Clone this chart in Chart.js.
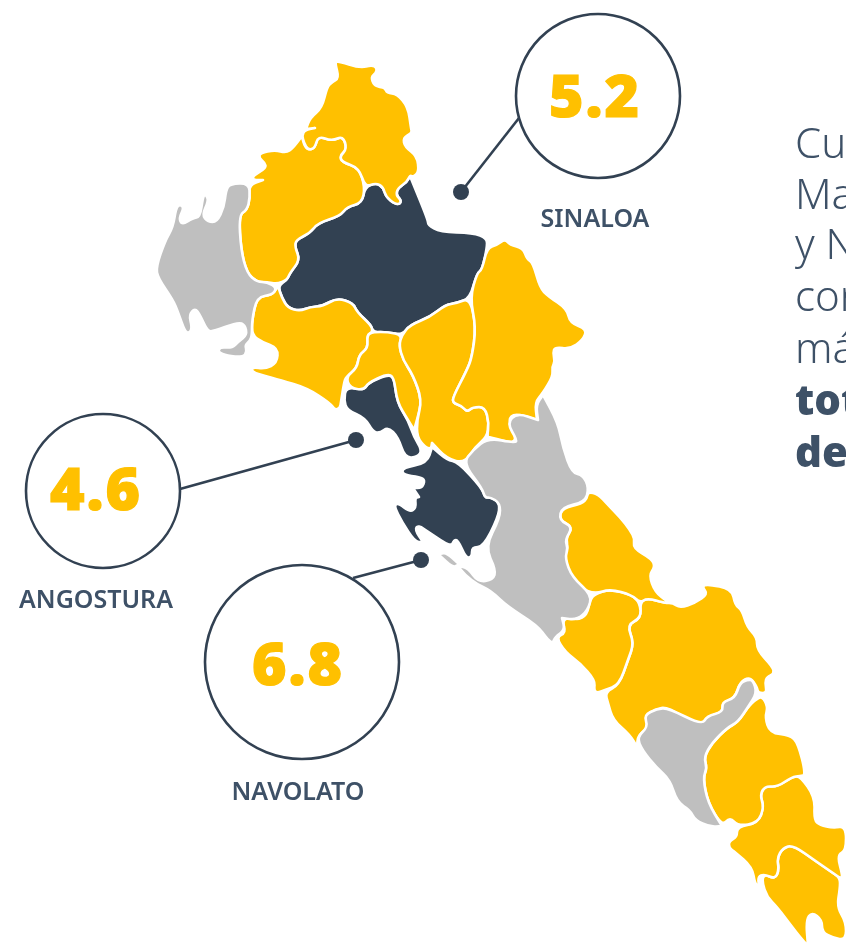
<!DOCTYPE html>
<html>
<head>
<meta charset="utf-8">
<title>Sinaloa</title>
<script src="https://cdn.jsdelivr.net/npm/chart.js@4"></script>
<style>
  html, body { margin: 0; padding: 0; background: #fff; overflow: hidden; }
  canvas { display: block; }
</style>
</head>
<body>
<canvas id="mapaChart" width="846" height="946"></canvas>
<script>
// contornos, en coordenadas del eje x/y
const choix = [[335,63],[338,61],[360,68],[372,65],[377,68],[376,73],[371,77],[374,85],[380,87],[385,88],[387,93],[397,94],[408,107],[411,128],[412,133],[403,138],[405,147],[417,156],[419,172],[413,177],[410,175],[407,182],[398,188],[396,195],[401,200],[400,204],[395,204],[386,197],[383,187],[376,183],[365,187],[359,168],[342,162],[340,156],[347,149],[343,136],[332,141],[318,136],[315,148],[308,150],[304,143],[302,135],[305,130],[315,128],[306,129],[310,118],[322,108],[327,87],[332,82],[339,78]];
const elFuerte = [[253,176],[266,168],[265,163],[259,158],[260,153],[275,150],[286,153],[293,148],[302,136],[304,145],[308,150],[315,148],[318,136],[332,141],[343,136],[347,149],[340,156],[342,162],[359,168],[365,187],[362,203],[347,207],[340,216],[318,223],[310,233],[296,240],[295,247],[300,260],[290,273],[287,280],[277,284],[267,282],[257,282],[247,273],[241,250],[239,215],[247,210],[250,198],[249,185],[263,180],[253,180]];
const ahome = [[249,183],[230,184],[226,190],[224,207],[217,222],[208,222],[202,215],[209,200],[205,194],[203,197],[200,217],[193,218],[182,225],[179,218],[184,208],[180,204],[176,208],[173,227],[165,241],[156,267],[158,278],[173,300],[178,312],[185,332],[190,333],[192,327],[189,315],[195,308],[200,315],[207,330],[212,332],[238,322],[245,325],[247,335],[238,342],[232,348],[220,347],[218,352],[227,356],[243,357],[247,352],[245,345],[250,341],[252,335],[252,320],[257,297],[272,295],[277,288],[267,282],[257,282],[247,273],[241,250],[239,215],[247,210],[250,198]];
const sinaloa = [[410,176],[428,220],[428,225],[440,232],[473,233],[487,238],[487,248],[482,270],[477,273],[470,298],[457,303],[445,305],[430,317],[410,325],[402,335],[388,332],[373,332],[371,325],[357,312],[353,303],[337,298],[323,306],[310,307],[300,311],[288,308],[282,298],[278,286],[287,280],[290,273],[300,260],[295,247],[296,240],[310,233],[318,223],[340,216],[347,207],[362,203],[365,187],[376,183],[383,187],[386,197],[395,204],[400,204],[401,200],[396,195],[398,188],[407,182]];
const badiraguato = [[487,248],[497,245],[505,239],[510,245],[523,248],[527,259],[533,263],[540,288],[548,296],[567,309],[570,323],[587,329],[583,340],[570,349],[555,347],[553,353],[555,362],[552,367],[553,376],[543,393],[535,402],[537,420],[515,413],[508,420],[515,433],[515,444],[490,437],[487,437],[489,423],[485,407],[473,407],[467,412],[462,406],[453,403],[453,397],[467,370],[472,357],[476,327],[470,298],[477,273],[482,270]];
const mocorito = [[470,298],[476,327],[472,357],[467,370],[453,397],[453,403],[462,406],[467,412],[473,407],[485,407],[489,423],[487,437],[475,447],[465,463],[447,459],[432,443],[431,449],[425,447],[417,437],[417,420],[422,400],[413,375],[403,360],[399,345],[402,335],[410,325],[430,317],[445,305],[457,303]];
const salvadorAlvarado = [[373,332],[388,332],[402,335],[399,345],[403,360],[413,375],[422,400],[417,420],[414,430],[408,420],[397,402],[394,377],[387,374],[368,383],[364,390],[350,388],[346,377],[357,368],[359,355],[368,348],[367,335]];
const guasave = [[278,286],[282,298],[288,308],[300,311],[310,307],[323,306],[337,298],[353,303],[357,312],[371,325],[373,332],[367,335],[368,348],[359,355],[357,368],[346,377],[344,383],[341,402],[340,408],[335,410],[330,403],[307,388],[280,380],[265,376],[252,372],[252,367],[265,369],[277,363],[278,348],[262,342],[252,335],[252,320],[257,297],[272,295],[277,288]];
const angostura = [[346,387],[364,390],[368,383],[387,375],[394,377],[397,402],[408,420],[414,437],[422,450],[418,457],[405,458],[398,437],[388,427],[380,433],[373,432],[365,418],[347,410],[344,400]];
const navolato = [[432,447],[447,460],[458,462],[482,488],[485,498],[490,497],[500,503],[498,518],[483,547],[472,547],[472,557],[466,558],[458,540],[454,540],[451,547],[430,533],[418,525],[415,530],[423,542],[415,542],[402,522],[394,506],[398,503],[410,512],[416,508],[415,498],[419,497],[413,488],[422,488],[425,480],[420,477],[403,475],[402,468],[427,463]];
const culiacan = [[488,438],[515,443],[517,440],[507,423],[517,413],[538,420],[536,405],[543,395],[558,423],[563,448],[572,473],[583,475],[589,488],[585,502],[562,507],[559,520],[573,527],[565,540],[568,548],[565,558],[572,577],[592,595],[588,610],[577,620],[562,618],[565,630],[555,637],[553,643],[548,640],[537,625],[508,607],[490,590],[478,585],[465,575],[458,566],[468,568],[478,582],[493,580],[496,570],[485,547],[500,518],[500,503],[490,497],[485,498],[482,488],[463,463],[473,450]];
const isla = [[441,555],[446,554],[457,564],[453,566]];
const elota = [[588,492],[598,494],[608,505],[620,517],[630,530],[635,539],[633,548],[652,559],[655,567],[649,575],[655,592],[668,602],[665,603],[647,598],[640,603],[632,595],[610,589],[595,594],[580,588],[570,578],[564,558],[568,548],[566,537],[573,527],[559,520],[562,508],[582,504],[587,498]];
const cosala = [[595,594],[610,589],[632,595],[640,603],[641,618],[627,625],[634,643],[628,660],[619,685],[605,690],[597,693],[594,690],[595,680],[580,663],[565,652],[556,637],[566,633],[562,620],[572,617],[577,620],[587,615],[590,600]];
const sanIgnacio = [[640,603],[647,598],[665,603],[673,603],[680,608],[695,603],[708,594],[702,587],[707,584],[732,589],[735,605],[742,610],[747,627],[757,637],[757,650],[773,667],[774,674],[767,677],[765,683],[767,693],[758,693],[757,687],[750,677],[740,682],[735,698],[722,703],[723,712],[707,717],[703,726],[695,725],[668,707],[655,709],[645,716],[650,727],[638,735],[637,747],[630,735],[613,720],[608,703],[605,692],[619,685],[628,660],[634,643],[627,625],[641,618]];
const mazatlan = [[644,715],[657,709],[668,708],[702,725],[707,716],[723,712],[722,702],[735,698],[740,683],[747,680],[753,680],[757,693],[748,707],[738,722],[727,728],[712,743],[704,757],[707,768],[703,778],[708,803],[722,826],[710,827],[695,820],[690,810],[677,802],[670,780],[657,768],[642,750],[637,737],[648,727]];
const concordia = [[755,700],[762,696],[768,707],[765,717],[770,733],[790,735],[798,743],[806,775],[800,776],[792,777],[777,787],[765,786],[760,795],[764,807],[758,823],[738,826],[730,817],[722,826],[708,803],[703,778],[707,768],[704,757],[712,743],[727,728],[738,722],[748,707]];
const rosario = [[800,776],[815,797],[814,820],[820,825],[833,828],[846,826],[846,851],[837,855],[843,877],[840,878],[833,873],[817,862],[793,845],[783,848],[777,858],[779,870],[775,879],[764,874],[758,877],[759,886],[755,884],[752,867],[735,852],[729,848],[729,841],[737,837],[737,827],[758,823],[764,807],[760,795],[765,786],[777,787],[792,777]];
const escuinapa = [[793,845],[817,862],[833,873],[840,878],[840,888],[837,907],[846,922],[846,940],[833,938],[822,932],[822,920],[812,912],[806,920],[808,946],[800,937],[793,928],[777,907],[767,897],[762,882],[764,874],[775,879],[779,870],[777,858],[783,848]];

const municipiosAmarillos = [choix, elFuerte, badiraguato, mocorito, salvadorAlvarado, guasave, elota, cosala, sanIgnacio, concordia, rosario, escuinapa];
const municipiosGrises = [ahome, culiacan, mazatlan];
const municipiosOscuros = [sinaloa, angostura, navolato];

const nombres = ['SINALOA', 'ANGOSTURA', 'NAVOLATO'];
const valores = [5.2, 4.6, 6.8];
const circuloX = [598, 103, 302];
const circuloY = [96, 491, 662];
const radios = [82, 77, 97];
const puntoX = [461, 356, 421];
const puntoY = [192, 440, 560];
const bordeX = [519, 180, 353];
const bordeY = [118, 489, 578];
const textoX = [595, 96, 298];
const valorY = [117, 510, 685];
const nombreY = [227, 608, 800];

const lineasTexto = ['Cu', 'Ma', 'y N', 'con', 'má', 'tot', 'de'];
const lineasY = [158, 209, 259, 311, 363, 415, 467];
const lineasNegrita = [false, false, false, false, false, true, true];

const AMARILLO = '#FFC000';
const GRIS = '#BFBFBF';
const OSCURO = '#324152';
const TEXTO = '#3E5167';

function poligono(puntos, color, borde) {
    return {
        data: puntos.map(p => ({ x: p[0], y: p[1] })),
        poligono: color,
        bordePoligono: borde,
        showLine: false,
        pointRadius: 0,
        order: 5
    };
}

// suaviza las esquinas suaves, las puntas (giro grande) quedan rectas
function trazar(ctx, puntos) {
    const n = puntos.length;
    const medio = (a, b) => ({ x: (a.x + b.x) / 2, y: (a.y + b.y) / 2 });
    const inicio = medio(puntos[n - 1], puntos[0]);
    ctx.moveTo(inicio.x, inicio.y);
    for (let i = 0; i < n; i++) {
        const ant = puntos[(i + n - 1) % n];
        const p = puntos[i];
        const sig = puntos[(i + 1) % n];
        const m = medio(p, sig);
        let giro = Math.abs(Math.atan2(sig.y - p.y, sig.x - p.x) - Math.atan2(p.y - ant.y, p.x - ant.x));
        if (giro > Math.PI) giro = 2 * Math.PI - giro;
        if (giro > 1.9) {
            ctx.lineTo(p.x, p.y);
            ctx.lineTo(m.x, m.y);
        } else {
            ctx.quadraticCurveTo(p.x, p.y, m.x, m.y);
        }
    }
    ctx.closePath();
}

// scatter no rellena figuras cerradas, se pinta con los puntos ya escalados
const pluginPoligonos = {
    id: 'poligonos',
    beforeDatasetDraw(chart, args) {
        const ds = chart.data.datasets[args.index];
        if (!ds.poligono) return;
        const ctx = chart.ctx;
        ctx.save();
        ctx.beginPath();
        trazar(ctx, args.meta.data);
        ctx.fillStyle = ds.poligono;
        ctx.fill();
        if (ds.bordePoligono) {
            ctx.lineJoin = 'round';
            ctx.lineWidth = 2.6;
            ctx.strokeStyle = '#fff';
            ctx.stroke();
        }
        ctx.restore();
    }
};

const pluginTextos = {
    id: 'textos',
    afterDraw(chart) {
        const ctx = chart.ctx;
        const x = chart.scales.x;
        const y = chart.scales.y;
        ctx.save();
        ctx.textBaseline = 'alphabetic';
        ctx.textAlign = 'center';
        for (let i = 0; i < valores.length; i++) {
            const tx = x.getPixelForValue(textoX[i]);
            ctx.fillStyle = AMARILLO;
            ctx.strokeStyle = AMARILLO;
            ctx.lineWidth = 1.2;
            ctx.font = '900 59px "Noto Sans"';
            ctx.letterSpacing = '2px';
            ctx.fillText(valores[i].toFixed(1), tx, y.getPixelForValue(valorY[i]));
            ctx.strokeText(valores[i].toFixed(1), tx, y.getPixelForValue(valorY[i]));
            ctx.letterSpacing = '0px';
            ctx.fillStyle = TEXTO;
            ctx.font = '600 25px "Noto Sans"';
            ctx.fillText(nombres[i], tx, y.getPixelForValue(nombreY[i]));
        }
        ctx.textAlign = 'left';
        for (let i = 0; i < lineasTexto.length; i++) {
            ctx.fillStyle = TEXTO;
            ctx.font = (lineasNegrita[i] ? '900' : '300') + ' 42px "Noto Sans"';
            ctx.fillText(lineasTexto[i], x.getPixelForValue(795), y.getPixelForValue(lineasY[i]));
        }
        ctx.restore();
    }
};

const datasets = [];
// circulos arriba, lineas debajo, mapa al fondo
datasets.push({
    data: valores.map((v, i) => ({ x: circuloX[i], y: circuloY[i] })),
    showLine: false,
    pointRadius: radios,
    pointBackgroundColor: '#fff',
    pointBorderColor: OSCURO,
    pointBorderWidth: 2.6,
    order: 1
});
datasets.push({
    data: puntoX.map((v, i) => ({ x: v, y: puntoY[i] })),
    showLine: false,
    pointRadius: 8,
    pointBackgroundColor: OSCURO,
    pointBorderWidth: 0,
    order: 2
});
puntoX.forEach((v, i) => {
    datasets.push({
        data: [{ x: v, y: puntoY[i] }, { x: bordeX[i], y: bordeY[i] }],
        showLine: true,
        borderColor: OSCURO,
        borderWidth: 2.6,
        pointRadius: 0,
        order: 3
    });
});
municipiosGrises.forEach(m => datasets.push(poligono(m, GRIS, true)));
datasets.push(poligono(isla, GRIS, false));
municipiosAmarillos.forEach(m => datasets.push(poligono(m, AMARILLO, true)));
municipiosOscuros.forEach(m => datasets.push(poligono(m, OSCURO, true)));

const ctx = document.getElementById('mapaChart').getContext('2d');
new Chart(ctx, {
    type: 'scatter',
    data: { datasets: datasets },
    options: {
        responsive: false,
        animation: false,
        layout: { padding: 0, autoPadding: false },
        plugins: { legend: { display: false }, tooltip: { enabled: false } },
        scales: {
            x: { type: 'linear', min: 0, max: 846, display: false },
            y: { type: 'linear', min: 0, max: 946, reverse: true, display: false }
        }
    },
    plugins: [pluginPoligonos, pluginTextos]
});
</script>
</body>
</html>
